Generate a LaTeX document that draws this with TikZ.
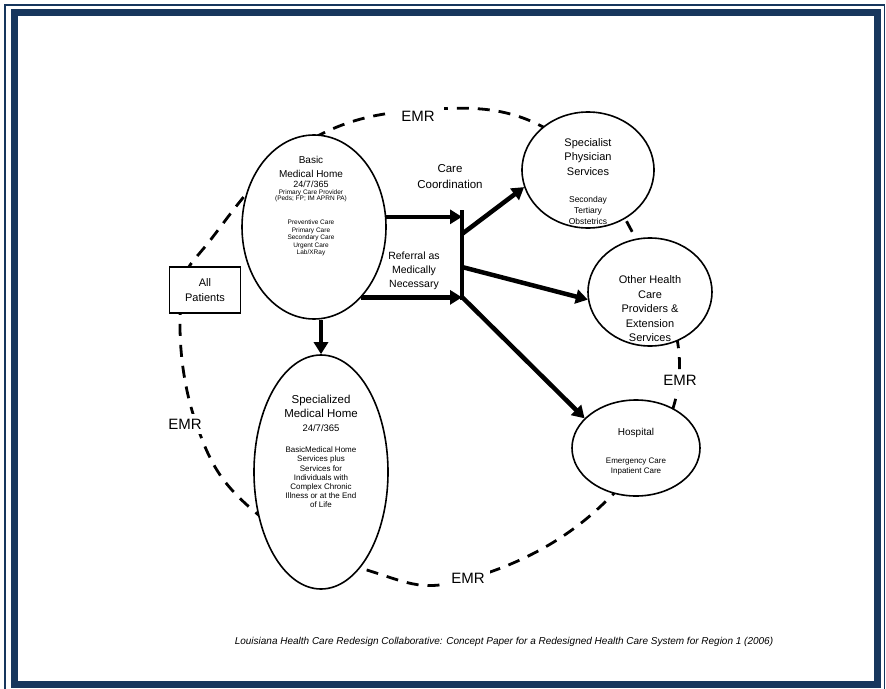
\documentclass[tikz,border=0pt]{standalone}
\usepackage{fontspec}
\setmainfont{Liberation Sans}
\usetikzlibrary{shapes.geometric,arrows.meta}
\definecolor{framenavy}{RGB}{23,54,93}

\tikzset{
  care/.style={draw,ellipse,line width=1.6pt,fill=white,inner sep=0pt},
  flow/.style={line width=4.5pt,-{Triangle[length=12pt,width=14pt]}},
  emrlabel/.style={font=\fontsize{15}{15}\selectfont,fill=white,inner xsep=5pt,inner ysep=5pt},
  txt/.style={align=center,inner sep=0pt}
}

\begin{document}
\begin{tikzpicture}[x=1pt,y=-1pt]
\useasboundingbox (0,0) rectangle (886,688);

%drawing the frame
\draw[framenavy,line width=1.6pt] (5,5) rectangle (884.5,700);
\draw[framenavy,line width=7pt] (14.5,12) rectangle (877.5,684.5);

%dashed EMR ring
\draw[line width=2.8pt,dash pattern=on 12pt off 9pt] plot[smooth cycle,tension=0.7] coordinates {
  (420,110) (545,128) (628,224) (679,378) (602,505) (468,579) (370,571)
  (255,512) (196,423) (181,300) (212,238) (300,146)};

%the care ellipses
\node[care,minimum width=144,minimum height=184] (basic) at (314,227) {};
\node[care,minimum width=134,minimum height=234] (special) at (321,472) {};
\node[care,minimum width=132,minimum height=116] (specialist) at (588,170) {};
\node[care,minimum width=124,minimum height=108] (other) at (650,292) {};
\node[care,minimum width=128,minimum height=96] (hospital) at (636,448) {};
\node[draw,line width=1.2pt,fill=white,minimum width=71,minimum height=46,align=center,
  font=\fontsize{11}{15}\selectfont] (all) at (205,290) {All\\Patients};

%texts inside the ellipses
\node[txt,font=\fontsize{10}{13.5}\selectfont] (basictitle) at (311,167) {Basic\\Medical Home};
\node[txt,font=\fontsize{9}{9}\selectfont] (basichours) at (311,184) {24/7/365};
\node[txt,font=\fontsize{6.5}{6.5}\selectfont] (basicprov) at (311,196) {Primary Care Provider\\(Peds; FP; IM APRN PA)};
\node[txt,font=\fontsize{6.5}{7.5}\selectfont] (basiclist) at (311,238) {Preventive Care\\Primary Care\\Secondary Care\\Urgent Care\\Lab/XRay};

\node[txt,font=\fontsize{11.5}{13.5}\selectfont] (specialtitle) at (321,406.5) {Specialized\\Medical Home};
\node[txt,font=\fontsize{9.5}{11}\selectfont] (specialhours) at (321,428) {24/7/365};
\node[txt,font=\fontsize{8}{9.2}\selectfont] (speciallist) at (321,477.5) {BasicMedical Home\\Services plus\\Services for\\Individuals with\\Complex Chronic\\Illness or at the End\\of Life};

\node[txt,font=\fontsize{11}{14.5}\selectfont] (specialisttitle) at (588,157) {Specialist\\Physician\\Services};
\node[txt,font=\fontsize{8.5}{11}\selectfont] (specialistlist) at (588,210) {Seconday\\Tertiary\\Obstetrics};

\node[txt,font=\fontsize{11}{14.5}\selectfont] (othertitle) at (650,309) {Other Health\\Care\\Providers \&\\Extension\\Services};

\node[txt,font=\fontsize{10}{11}\selectfont] (hospitaltitle) at (636,433) {Hospital};
\node[txt,font=\fontsize{8}{10}\selectfont] (hospitallist) at (636,467) {Emergency Care\\Inpatient Care};

%labels on the arrows
\node[txt,font=\fontsize{11.5}{16}\selectfont] (coord) at (450,177) {Care\\Coordination};
\node[txt,font=\fontsize{10.5}{14}\selectfont] (referral) at (414,271) {Referral as\\Medically\\Necessary};

%EMR labels
\node[emrlabel,inner xsep=9pt] (emrtop) at (418,116) {EMR};
\node[emrlabel] (emrright) at (680,380) {EMR};
\node[emrlabel] (emrleft) at (185,424) {EMR};
\node[emrlabel] (emrbottom) at (468,578) {EMR};

%the arrows
\coordinate (bartop) at (462,210);
\coordinate (barbot) at (462,300);
\coordinate (barup) at (462,234);
\coordinate (barmid) at (462,267);
\draw[line width=4.5pt] (bartop) -- (barbot);
\draw[flow] (basic.8) -- (basic.8 -| bartop);
\draw[flow] (basic.-56) -- (basic.-56 -| bartop);
\draw[flow] (barup) -- (specialist.195);
\draw[flow] (barmid) -- (other.187);
\draw[flow] ([yshift=3pt]barbot) -- (hospital.150);
\draw[flow] (basic.south -| special.north) -- (special.north);

%source line
\node[font=\fontsize{10}{10}\itshape] (source) at (504,642) {Louisiana Health Care Redesign Collaborative: Concept Paper for a Redesigned Health Care System for Region 1 (2006)};
\end{tikzpicture}
\end{document}
